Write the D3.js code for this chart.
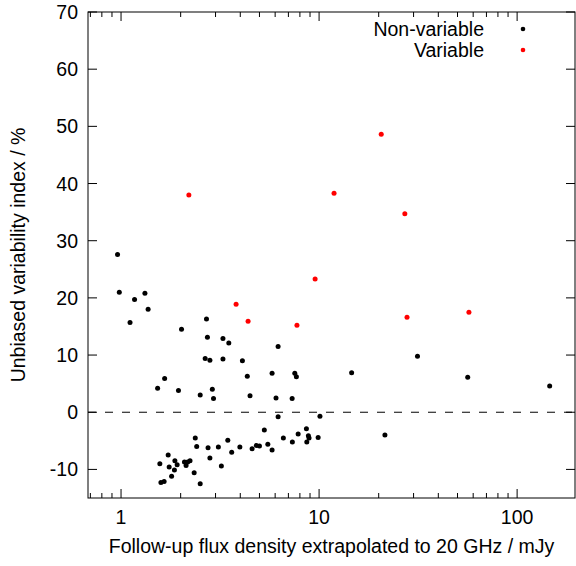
<!DOCTYPE html>
<html><head><meta charset="utf-8">
<script src="https://cdn.jsdelivr.net/npm/d3@7"></script>
<style>body{margin:0;background:#fff}text{font-family:"Liberation Sans",Arial,sans-serif}</style>
</head><body><svg id="c" width="576" height="566"></svg>
<script>
// non-variable sources: [flux mJy, index %]
const nonVariable = [
 [0.96,27.6],[0.98,21.0],[1.11,15.7],[1.17,19.7],[1.32,20.8],[1.37,18.0],[2.02,14.5],[2.70,16.3],
 [2.73,13.1],[3.27,12.9],[3.50,12.1],[2.66,9.4],[2.81,9.1],[3.27,9.3],[4.10,9.0],[4.34,6.3],
 [6.21,11.5],[5.79,6.8],[7.54,6.8],[7.68,6.2],[1.66,5.9],[1.53,4.2],[1.95,3.8],[2.51,3.0],
 [2.89,4.0],[2.93,2.4],[4.48,2.9],[6.06,2.5],[7.31,2.4],[6.21,-0.8],[10.1,-0.7],[5.29,-3.1],
 [6.60,-4.5],[7.84,-3.8],[8.63,-2.9],[8.83,-4.1],[8.90,-4.5],[7.33,-5.2],[8.67,-5.2],[9.89,-4.4],
 [2.37,-4.5],[2.41,-6.0],[2.75,-6.2],[3.10,-6.1],[3.46,-4.9],[3.62,-7.0],[3.98,-6.1],[4.59,-6.4],
 [4.82,-5.8],[5.00,-5.9],[5.51,-5.6],[5.79,-6.6],[2.81,-8.0],[3.21,-9.4],[1.73,-7.5],[1.57,-9.0],
 [1.75,-9.6],[1.80,-11.2],[1.86,-10.1],[1.87,-8.5],[1.92,-9.2],[2.09,-8.7],[2.13,-9.3],[2.17,-8.7],
 [2.23,-8.5],[2.34,-10.6],[2.51,-12.5],[1.59,-12.3],[1.65,-12.1],
 [14.6,6.9],[31.4,9.8],[56.3,6.1],[146,4.6],[21.5,-4.0]
];
const variable = [
 [2.20,38.0],[3.81,18.9],[4.38,15.9],[7.73,15.2],[9.55,23.3],[11.9,38.3],[20.6,48.6],
 [27.1,34.7],[27.8,16.6],[57.1,17.5]
];
const yTicks = [-10,0,10,20,30,40,50,60,70];
const xMajor = [1,10,100];
const legendItems = [["Non-variable","#000"],["Variable","#f00"]];

const svg = d3.select("#c");
const L=88,R=575,T=12,B=498;
const FS=19.5;
const x = d3.scaleLog().domain([0.681,196]).range([L,R]);
const y = d3.scaleLinear().domain([-15,70]).range([B,T]);

// minor x ticks
const xMinor=[];
[0.1,1,10,100].forEach(d=>{for(let k=2;k<10;k++){const v=d*k;if(v>=0.681&&v<=196)xMinor.push(v);}});
const g=svg.append("g").attr("stroke","#000").attr("stroke-width",1);
xMinor.forEach(v=>{g.append("line").attr("x1",x(v)).attr("x2",x(v)).attr("y1",B).attr("y2",B-5);
 g.append("line").attr("x1",x(v)).attr("x2",x(v)).attr("y1",T).attr("y2",T+5);});
xMajor.forEach(v=>{g.append("line").attr("x1",x(v)).attr("x2",x(v)).attr("y1",B).attr("y2",B-9);
 g.append("line").attr("x1",x(v)).attr("x2",x(v)).attr("y1",T).attr("y2",T+9);});
yTicks.forEach(v=>{g.append("line").attr("x1",L).attr("x2",L+9).attr("y1",y(v)).attr("y2",y(v));
 g.append("line").attr("x1",R).attr("x2",R-9).attr("y1",y(v)).attr("y2",y(v));});

svg.selectAll(".xl").data(xMajor).enter().append("text").attr("x",d=>x(d)).attr("y",B+26)
 .attr("text-anchor","middle").attr("font-size",FS).text(d=>d);
svg.selectAll(".yl").data(yTicks).enter().append("text").attr("x",L-10).attr("y",d=>y(d)+7)
 .attr("text-anchor","end").attr("font-size",FS).text(d=>d);

svg.append("line").attr("x1",L).attr("x2",R).attr("y1",y(0)).attr("y2",y(0))
 .attr("stroke","#000").attr("stroke-dasharray","8,9");

svg.append("rect").attr("x",L).attr("y",T).attr("width",R-L).attr("height",B-T)
 .attr("fill","none").attr("stroke","#000");

svg.append("g").selectAll("circle").data(nonVariable).enter().append("circle")
 .attr("cx",d=>x(d[0])).attr("cy",d=>y(d[1])).attr("r",2.5).attr("fill","#000");
svg.append("g").selectAll("circle").data(variable).enter().append("circle")
 .attr("cx",d=>x(d[0])).attr("cy",d=>y(d[1])).attr("r",2.5).attr("fill","#f00");

legendItems.forEach((d,i)=>{
 svg.append("text").attr("x",484).attr("y",36+i*21).attr("text-anchor","end").attr("font-size",FS).text(d[0]);
 svg.append("circle").attr("cx",523).attr("cy",29+i*21).attr("r",2.3).attr("fill",d[1]);
});

svg.append("text").attr("x",(L+R)/2).attr("y",B+55).attr("text-anchor","middle").attr("font-size",FS)
 .text("Follow-up flux density extrapolated to 20 GHz / mJy");
svg.append("text").attr("transform",`translate(25,${(T+B)/2}) rotate(-90)`).attr("text-anchor","middle")
 .attr("font-size",FS).text("Unbiased variability index / %");
</script></body></html>
